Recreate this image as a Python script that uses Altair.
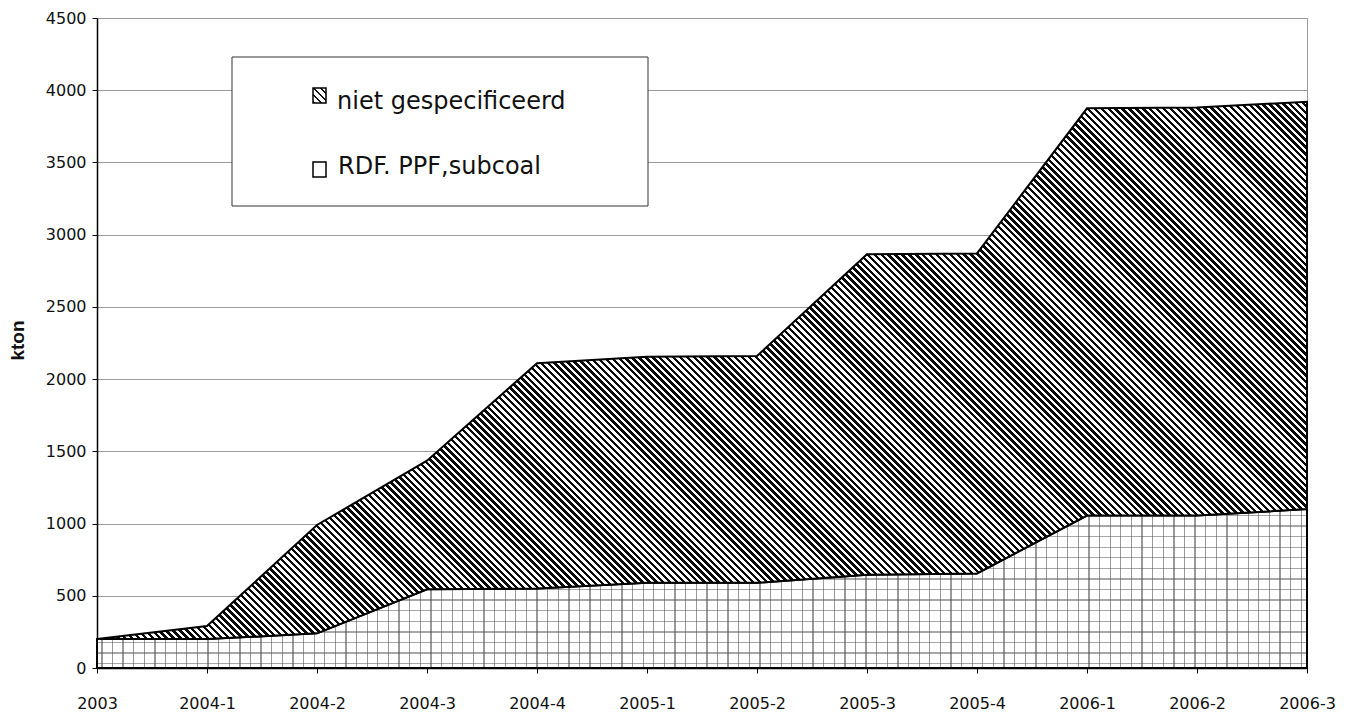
import altair as alt
import pandas as pd

# ---- data ----
periods = ["2003", "2004-1", "2004-2", "2004-3", "2004-4", "2005-1",
           "2005-2", "2005-3", "2005-4", "2006-1", "2006-2", "2006-3"]
rdf_ppf_subcoal = [200, 200, 240, 545, 550, 590, 590, 645, 655, 1055, 1055, 1100]
niet_gespecificeerd = [0, 90, 750, 890, 1560, 1565, 1570, 2220, 2215, 2820, 2825, 2820]
series_labels = ["niet gespecificeerd", "RDF. PPF,subcoal"]
y_ticks = [0, 500, 1000, 1500, 2000, 2500, 3000, 3500, 4000, 4500]
y_title = "kton"

df = pd.DataFrame({"period": periods, "rdf": rdf_ppf_subcoal, "niet": niet_gespecificeerd})
df["total"] = df["rdf"] + df["niet"]

# ---- layout ----
W, H, YMAX = 1210, 650, 4500
TOP = 10
PPU = H / YMAX


def stripe_stops(n, duty, on, off, phase=0.0):
    stops = []
    for k in range(n):
        s = k / n
        a = (k + phase) / n
        b = (k + phase + duty) / n
        e = (k + 1) / n
        stops += [(s, off), (a, off), (a, on), (b, on), (b, off), (e, off)]
    return [alt.GradientStop(color=c, offset=round(min(max(o, 0.0), 1.0), 6)) for o, c in stops]


def hatch_gradient(w, h, period, duty, on="#111111", off="#ffffff"):
    # diagonal "\" stripes at 45 degrees in screen space (objectBoundingBox units)
    r = h / w
    s = (1 + r) / (1 + r * r)
    n = max(1, round((w + h) / period))
    return alt.LinearGradient(gradient="linear", stops=stripe_stops(n, duty, on, off),
                              x1=0, y1=1, x2=s, y2=1 - s * r)


top_h = (max(df["total"]) - min(df["rdf"])) * PPU
grad_hatch = hatch_gradient(W, top_h, 6.9, 0.5, on="#0a0a0a")

bot_h = max(df["rdf"]) * PPU
grid_period = 10.6
grad_v = alt.LinearGradient(gradient="linear",
                            stops=stripe_stops(round(W / grid_period), 0.12, "#9a9a9a", "#ffffff", 0.4),
                            x1=0, y1=0, x2=1, y2=0)
grad_h = alt.LinearGradient(gradient="linear",
                            stops=stripe_stops(max(1, round(bot_h / grid_period)), 0.12,
                                               "rgba(80,80,80,0.5)", "rgba(255,255,255,0)", 0.35),
                            x1=0, y1=1, x2=0, y2=0)
grad_icon = hatch_gradient(13, 15, 7.5, 0.4)

y_axis = alt.Axis(values=y_ticks, format="d", grid=True, gridColor="#9a9a9a", gridWidth=1,
                  domainColor="#000000", domainWidth=1.5, tickColor="#000000", tickSize=5,
                  labelFont="DejaVu Sans", labelFontSize=16, labelColor="#111111", labelPadding=6,
                  title=y_title, titleFont="Liberation Sans", titleFontSize=19,
                  titleFontWeight="bold", titleColor="#111111", titleX=-70, titleY=322)
x_axis = alt.Axis(labelAngle=0, grid=False, domainColor="#000000", domainWidth=1.5,
                  tickColor="#000000", tickSize=5, labelFont="DejaVu Sans", labelFontSize=16,
                  labelColor="#111111", labelPadding=22, title=None)
y_scale = alt.Scale(domain=[0, YMAX], nice=False)

base = alt.Chart(df).encode(
    x=alt.X("period:O", sort=periods, scale=alt.Scale(type="point", padding=0), axis=x_axis)
)

bottom_v = base.mark_area(fill=grad_v, strokeWidth=0).encode(
    y=alt.Y("rdf:Q", scale=y_scale, axis=y_axis, title=y_title))
bottom_h = base.mark_area(fill=grad_h, stroke="#000000", strokeWidth=2).encode(
    y=alt.Y("rdf:Q", scale=y_scale, axis=y_axis, title=y_title))
top = base.mark_area(fill=grad_hatch, stroke="#000000", strokeWidth=2).encode(
    y=alt.Y("total:Q", scale=y_scale, axis=y_axis, title=y_title), y2="rdf:Q")

one = pd.DataFrame({"k": [0]})
box = alt.Chart(one).mark_rect(fill="#ffffff", stroke="#333333", strokeWidth=1).encode(
    x=alt.value(135), x2=alt.value(551), y=alt.value(57 - 8 - TOP), y2=alt.value(206 - 8 - TOP))
icon1 = alt.Chart(one).mark_rect(fill=grad_icon, stroke="#000000", strokeWidth=1.5).encode(
    x=alt.value(216), x2=alt.value(229), y=alt.value(88 - 8 - TOP), y2=alt.value(103 - 8 - TOP))
icon2 = alt.Chart(one).mark_rect(fill="#ffffff", stroke="#000000", strokeWidth=1.5).encode(
    x=alt.value(216), x2=alt.value(229), y=alt.value(162 - 8 - TOP), y2=alt.value(177 - 8 - TOP))
text1 = alt.Chart(pd.DataFrame({"label": [series_labels[0]]})).mark_text(
    align="left", baseline="alphabetic", font="DejaVu Sans", fontSize=24, color="#111111"
).encode(x=alt.value(240), y=alt.value(109 - 8 - TOP), text="label:N")
text2 = alt.Chart(pd.DataFrame({"label": [series_labels[1]]})).mark_text(
    align="left", baseline="alphabetic", font="DejaVu Sans", fontSize=24, color="#111111"
).encode(x=alt.value(241), y=alt.value(174 - 8 - TOP), text="label:N")

chart = alt.layer(bottom_v, bottom_h, top, box, icon1, text1, icon2, text2).properties(
    width=W, height=H,
    autosize=alt.AutoSizeParams(type="none"),
    padding={"left": 89, "top": TOP, "right": 30, "bottom": 50},
    background="#ffffff",
).configure_view(stroke="#9a9a9a", strokeWidth=1)

chart.save("out.html", embed_options={"renderer": "svg", "actions": False})
